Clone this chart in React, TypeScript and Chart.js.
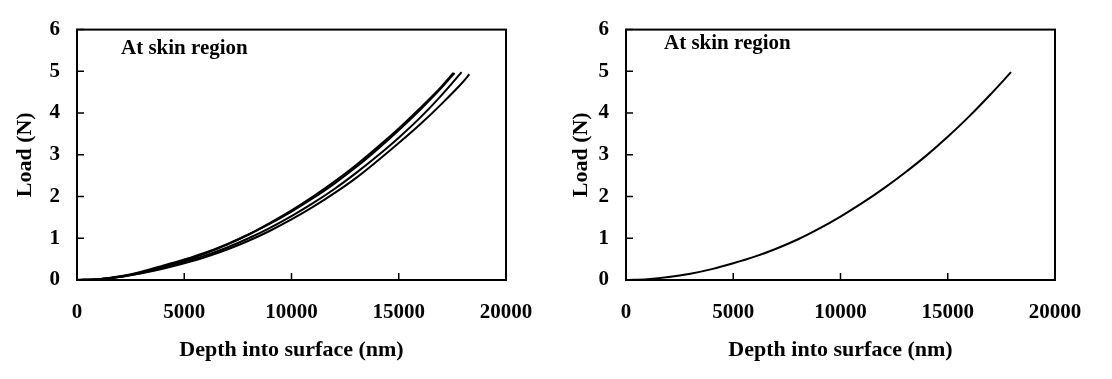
import React, { useEffect, useRef } from "react";
import { Chart, registerables } from "chart.js";

Chart.register(...registerables);

// ---- Data ----
const panelTitle = "At skin region";
const xAxisTitle = "Depth into surface (nm)";
const yAxisTitle = "Load (N)";
const xMin = 0;
const xMax = 20000;
const xStep = 5000;
const yMin = 0;
const yMax = 6;
const yStep = 1;

// Left panel: several repeated indentation curves
const depthA = [0, 1000, 2000, 3000, 4000, 5000, 6000, 7000, 8000, 9000, 10000, 11000, 12000, 13000, 14000, 15000, 16000, 17000, 17550];
const loadA = [0, 0.02, 0.08, 0.18, 0.31, 0.46, 0.64, 0.85, 1.09, 1.37, 1.67, 2.0, 2.36, 2.75, 3.18, 3.63, 4.12, 4.64, 4.96];

const depthB = [0, 1000, 2000, 3000, 4000, 5000, 6000, 7000, 8000, 9000, 10000, 11000, 12000, 13000, 14000, 15000, 16000, 17000, 17600];
const loadB = [0, 0.02, 0.09, 0.2, 0.34, 0.49, 0.66, 0.86, 1.09, 1.35, 1.64, 1.96, 2.31, 2.7, 3.13, 3.59, 4.08, 4.61, 4.96];

const depthC = [0, 1000, 2000, 3000, 4000, 5000, 6000, 7000, 8000, 9000, 10000, 11000, 12000, 13000, 14000, 15000, 16000, 17000, 17930];
const loadC = [0, 0.02, 0.08, 0.17, 0.29, 0.43, 0.59, 0.78, 1.0, 1.25, 1.53, 1.84, 2.18, 2.56, 2.97, 3.41, 3.89, 4.43, 4.98];

const depthD = [0, 1000, 2000, 3000, 4000, 5000, 6000, 7000, 8000, 9000, 10000, 11000, 12000, 13000, 14000, 15000, 16000, 17000, 18000, 18290];
const loadD = [0, 0.02, 0.07, 0.16, 0.27, 0.4, 0.55, 0.73, 0.94, 1.18, 1.45, 1.75, 2.08, 2.44, 2.85, 3.28, 3.73, 4.22, 4.75, 4.93];

// Right panel: single curve
const depthR = [0, 1000, 2000, 3000, 4000, 5000, 6000, 7000, 8000, 9000, 10000, 11000, 12000, 13000, 14000, 15000, 16000, 17000, 17950];
const loadR = [0, 0.02, 0.07, 0.15, 0.26, 0.4, 0.56, 0.75, 0.97, 1.23, 1.52, 1.84, 2.19, 2.57, 2.98, 3.43, 3.92, 4.45, 4.98];

const leftSeries = [
  [depthA, loadA],
  [depthB, loadB],
  [depthC, loadC],
  [depthD, loadD],
];
const rightSeries = [[depthR, loadR]];

const FONT = "'Liberation Serif', 'Times New Roman', serif";
const FONT_SIZE = 21;
const TITLE_SIZE = 22;
const CANVAS_W = 556;
const CANVAS_H = 379;
const PAD_BOTTOM = 15;

function toPoints(xs: number[], ys: number[]) {
  return xs.map((x, i) => ({ x, y: ys[i] }));
}

function makeFramePlugin(textOffsetX: number, textY: number) {
  return {
    id: "frameAndTicks",
    afterDraw(chart: any) {
      const { ctx, chartArea } = chart;
      const xs = chart.scales.x;
      const ys = chart.scales.y;
      ctx.save();
      ctx.strokeStyle = "#000";
      ctx.lineWidth = 1.5;
      // inner tick marks
      ctx.beginPath();
      xs.ticks.forEach((t: any) => {
        const px = xs.getPixelForValue(t.value);
        ctx.moveTo(px, chartArea.bottom);
        ctx.lineTo(px, chartArea.bottom - 7);
      });
      ys.ticks.forEach((t: any) => {
        const py = ys.getPixelForValue(t.value);
        ctx.moveTo(chartArea.left, py);
        ctx.lineTo(chartArea.left + 7, py);
      });
      ctx.stroke();
      // frame
      ctx.lineWidth = 2;
      ctx.strokeRect(chartArea.left, chartArea.top, chartArea.right - chartArea.left, chartArea.bottom - chartArea.top);
      // panel text
      ctx.fillStyle = "#000";
      ctx.font = `bold ${FONT_SIZE}px ${FONT}`;
      ctx.textAlign = "left";
      ctx.textBaseline = "middle";
      ctx.fillText(panelTitle, chartArea.left + textOffsetX, textY);
      ctx.restore();
    },
  };
}

function Panel(props: { series: number[][][]; left: number; yAxisWidth: number; rightPad: number; textOffsetX: number; textY: number }) {
  const ref = useRef<HTMLCanvasElement | null>(null);
  useEffect(() => {
    if (!ref.current) return;
    const chart = new Chart(ref.current, {
      type: "line",
      data: {
        datasets: props.series.map(([xs, ys]) => ({
          data: toPoints(xs, ys),
          borderColor: "#000",
          borderWidth: 2,
          pointRadius: 0,
          fill: false,
          cubicInterpolationMode: "monotone" as const,
        })),
      },
      options: {
        responsive: false,
        animation: false,
        layout: { padding: { left: 0, right: props.rightPad, top: 20, bottom: PAD_BOTTOM } },
        plugins: { legend: { display: false }, tooltip: { enabled: false } },
        scales: {
          x: {
            type: "linear",
            min: xMin,
            max: xMax,
            grid: { display: false, drawTicks: false },
            border: { display: false },
            ticks: {
              stepSize: xStep,
              color: "#000",
              padding: 20,
              maxRotation: 0,
              callback: (v: any) => String(v),
              font: { family: FONT, size: FONT_SIZE, weight: "bold" },
            },
            title: {
              display: true,
              text: xAxisTitle,
              color: "#000",
              padding: 0,
              font: { family: FONT, size: TITLE_SIZE, weight: "bold" },
            },
            afterFit: (s: any) => {
              s.height = CANVAS_H - PAD_BOTTOM - 280;
            },
          },
          y: {
            type: "linear",
            min: yMin,
            max: yMax,
            grid: { display: false, drawTicks: false },
            border: { display: false },
            ticks: {
              stepSize: yStep,
              color: "#000",
              padding: 17,
              callback: (v: any) => String(v),
              font: { family: FONT, size: FONT_SIZE, weight: "bold" },
            },
            title: {
              display: true,
              text: yAxisTitle,
              color: "#000",
              padding: { top: 12, bottom: 0 },
              font: { family: FONT, size: TITLE_SIZE, weight: "bold" },
            },
            afterFit: (s: any) => {
              s.width = props.yAxisWidth;
            },
          },
        },
      },
      plugins: [makeFramePlugin(props.textOffsetX, props.textY)],
    } as any);
    return () => chart.destroy();
  }, []);
  return (
    <canvas
      ref={ref}
      width={CANVAS_W}
      height={CANVAS_H}
      style={{ position: "absolute", left: props.left, top: 0, width: CANVAS_W, height: CANVAS_H }}
    />
  );
}

export default function App() {
  return (
    <div style={{ position: "fixed", left: 0, top: 0, width: 1112, height: 379, background: "#fff" }}>
      <Panel series={leftSeries} left={0} yAxisWidth={77} rightPad={CANVAS_W - 506} textOffsetX={44} textY={49} />
      <Panel series={rightSeries} left={556} yAxisWidth={70} rightPad={CANVAS_W - 499} textOffsetX={38} textY={44} />
    </div>
  );
}
